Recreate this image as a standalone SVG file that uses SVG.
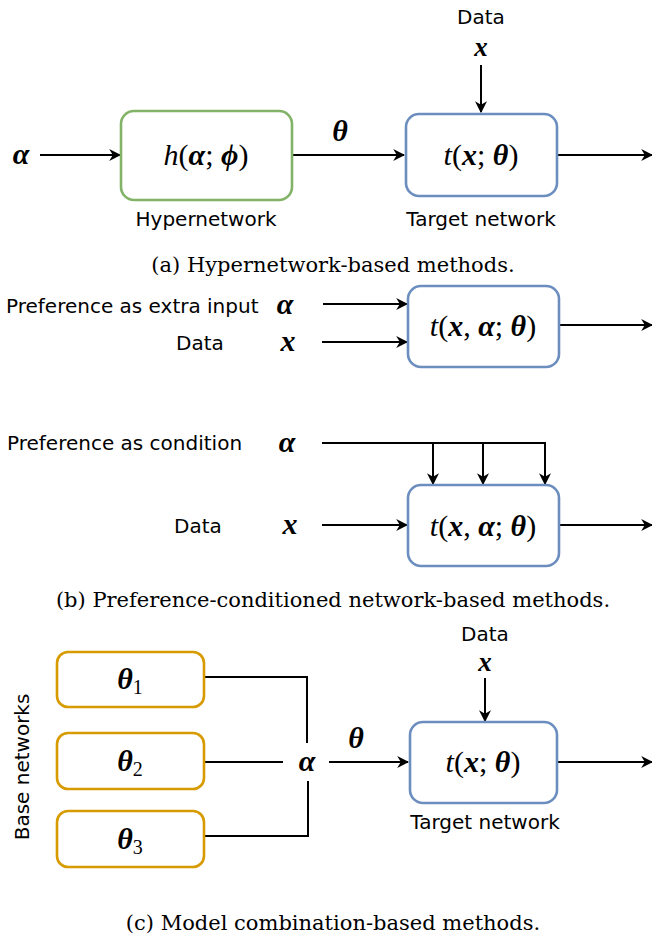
<svg xmlns="http://www.w3.org/2000/svg" width="652" height="937" viewBox="0 0 652 937">
<style>
.bg{fill:#ffffff}
.box{fill:#ffffff;stroke-width:2.6}
.g{stroke:#82b366}
.b{stroke:#6c8ebf}
.o{stroke:#d79b00}
.ln{fill:none;stroke:#000;stroke-width:2}
.lbl{font-family:"DejaVu Sans","Liberation Sans",sans-serif;font-size:20px;fill:#000}
.cap{font-family:"DejaVu Serif","Liberation Serif",serif;font-size:21px;fill:#000}
.m{font-family:"Liberation Serif","DejaVu Serif",serif;font-size:30px;fill:#000}
.sm{font-size:27px}
.bi{font-weight:bold;font-style:italic}
.it{font-style:italic}
</style>
<defs>
<marker id="arr" viewBox="0 0 10 10" refX="9" refY="5" markerWidth="12" markerHeight="12" markerUnits="userSpaceOnUse" orient="auto">
<path d="M0,0 L10,5 L0,10 L3,5 z" fill="#000"/>
</marker>
</defs>
<rect class="bg" x="0" y="0" width="652" height="937"/>

<g id="connectors">
<line class="ln" x1="40" y1="155" x2="120" y2="155" marker-end="url(#arr)"/>
<line class="ln" x1="292" y1="155" x2="404" y2="155" marker-end="url(#arr)"/>
<line class="ln" x1="557" y1="155" x2="652" y2="155" marker-end="url(#arr)"/>
<line class="ln" x1="481" y1="65" x2="481" y2="112" marker-end="url(#arr)"/>
<line class="ln" x1="323" y1="304" x2="407" y2="304" marker-end="url(#arr)"/>
<line class="ln" x1="322" y1="342" x2="407" y2="342" marker-end="url(#arr)"/>
<line class="ln" x1="559" y1="325" x2="652" y2="325" marker-end="url(#arr)"/>
<polyline class="ln" points="322,443 545,443 545,484" marker-end="url(#arr)"/>
<line class="ln" x1="433" y1="443" x2="433" y2="484" marker-end="url(#arr)"/>
<line class="ln" x1="483" y1="443" x2="483" y2="484" marker-end="url(#arr)"/>
<line class="ln" x1="322" y1="525" x2="407" y2="525" marker-end="url(#arr)"/>
<line class="ln" x1="559" y1="525" x2="652" y2="525" marker-end="url(#arr)"/>
<polyline class="ln" points="204,677 307,677 307,743"/>
<line class="ln" x1="204" y1="762" x2="283" y2="762"/>
<polyline class="ln" points="204,836 308,836 308,781"/>
<line class="ln" x1="329" y1="762" x2="408" y2="762" marker-end="url(#arr)"/>
<line class="ln" x1="485" y1="678" x2="485" y2="721" marker-end="url(#arr)"/>
<line class="ln" x1="557" y1="762" x2="652" y2="762" marker-end="url(#arr)"/>
</g>

<g id="alpha-a"><text class="m bi" x="21" y="164" text-anchor="middle">α</text></g>
<g id="hypernetwork">
<rect class="box g" x="121" y="111" width="171" height="89" rx="13"/>
<text class="m" x="206" y="165" text-anchor="middle"><tspan class="it">h</tspan>(<tspan class="bi">α</tspan>; <tspan class="bi">ϕ</tspan>)</text>
<text class="lbl" x="206" y="226" text-anchor="middle">Hypernetwork</text>
</g>
<g id="theta-a"><text class="m bi" x="340" y="141" text-anchor="middle">θ</text></g>
<g id="data-a">
<text class="lbl" x="481" y="24" text-anchor="middle">Data</text>
<text class="m sm bi" x="481" y="56" text-anchor="middle">x</text>
</g>
<g id="target-a">
<rect class="box b" x="406" y="114" width="151" height="82" rx="13"/>
<text class="m" x="481" y="165" text-anchor="middle"><tspan class="it">t</tspan>(<tspan class="bi">x</tspan>; <tspan class="bi">θ</tspan>)</text>
<text class="lbl" x="481" y="226" text-anchor="middle">Target network</text>
</g>
<text class="cap" x="333" y="272" text-anchor="middle">(a) Hypernetwork-based methods.</text>

<g id="pref-extra">
<text class="lbl" x="6" y="313">Preference as extra input</text>
<text class="m bi" x="285" y="314" text-anchor="middle">α</text>
</g>
<g id="data-b1">
<text class="lbl" x="200" y="350" text-anchor="middle">Data</text>
<text class="m bi" x="288" y="351" text-anchor="middle">x</text>
</g>
<g id="target-b1">
<rect class="box b" x="408" y="286" width="151" height="81" rx="13"/>
<text class="m" x="483" y="336" text-anchor="middle"><tspan class="it">t</tspan>(<tspan class="bi">x</tspan>, <tspan class="bi">α</tspan>; <tspan class="bi">θ</tspan>)</text>
</g>

<g id="pref-cond">
<text class="lbl" x="7" y="450">Preference as condition</text>
<text class="m bi" x="287" y="452" text-anchor="middle">α</text>
</g>
<g id="data-b2">
<text class="lbl" x="198" y="533" text-anchor="middle">Data</text>
<text class="m bi" x="290" y="534" text-anchor="middle">x</text>
</g>
<g id="target-b2">
<rect class="box b" x="408" y="485" width="151" height="81" rx="13"/>
<text class="m" x="483" y="536" text-anchor="middle"><tspan class="it">t</tspan>(<tspan class="bi">x</tspan>, <tspan class="bi">α</tspan>; <tspan class="bi">θ</tspan>)</text>
</g>
<text class="cap" x="333" y="607" text-anchor="middle">(b) Preference-conditioned network-based methods.</text>

<g id="base-label"><text class="lbl" transform="translate(29,767) rotate(-90)" text-anchor="middle">Base networks</text></g>
<g id="theta1">
<rect class="box o" x="57" y="652" width="147" height="55" rx="11"/>
<text class="m" x="130" y="689" text-anchor="middle"><tspan class="bi">θ</tspan><tspan font-size="20" dy="5">1</tspan></text>
</g>
<g id="theta2">
<rect class="box o" x="57" y="733" width="147" height="56" rx="11"/>
<text class="m" x="130" y="771" text-anchor="middle"><tspan class="bi">θ</tspan><tspan font-size="20" dy="5">2</tspan></text>
</g>
<g id="theta3">
<rect class="box o" x="57" y="811" width="147" height="56" rx="11"/>
<text class="m" x="130" y="849" text-anchor="middle"><tspan class="bi">θ</tspan><tspan font-size="20" dy="5">3</tspan></text>
</g>
<g id="alpha-c"><text class="m bi" x="307" y="771" text-anchor="middle">α</text></g>
<g id="theta-c"><text class="m bi" x="356" y="748" text-anchor="middle">θ</text></g>
<g id="data-c">
<text class="lbl" x="485" y="641" text-anchor="middle">Data</text>
<text class="m sm bi" x="485" y="671" text-anchor="middle">x</text>
</g>
<g id="target-c">
<rect class="box b" x="410" y="722" width="147" height="81" rx="13"/>
<text class="m" x="483" y="772" text-anchor="middle"><tspan class="it">t</tspan>(<tspan class="bi">x</tspan>; <tspan class="bi">θ</tspan>)</text>
<text class="lbl" x="485" y="829" text-anchor="middle">Target network</text>
</g>
<text class="cap" x="333" y="930" text-anchor="middle">(c) Model combination-based methods.</text>
</svg>
